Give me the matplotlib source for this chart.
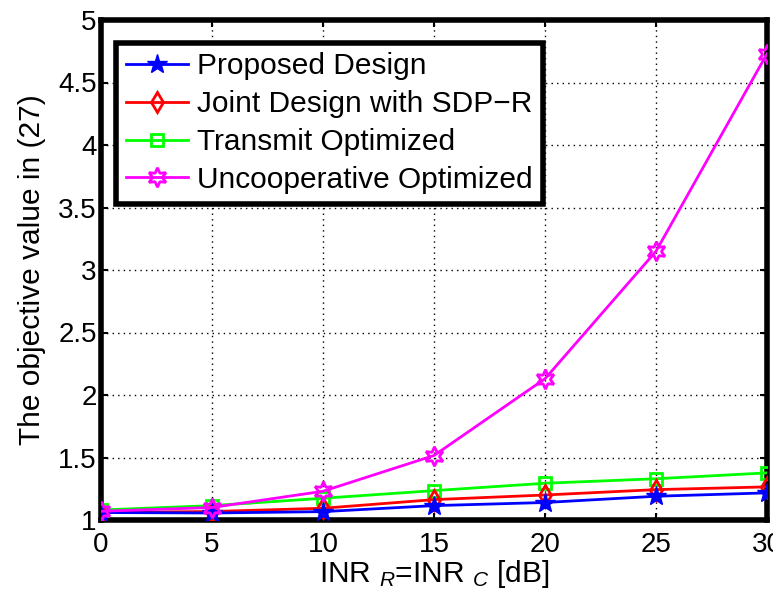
import numpy as np
import matplotlib.pyplot as plt

plt.rcParams['font.family'] = ['Liberation Sans', 'DejaVu Sans']
plt.rcParams['mathtext.fontset'] = 'custom'
plt.rcParams['mathtext.rm'] = 'Liberation Sans'
plt.rcParams['mathtext.it'] = 'Liberation Sans:italic'

inr = [0, 5, 10, 15, 20, 25, 30]

proposed = [1.06, 1.056, 1.067, 1.115, 1.14, 1.19, 1.217]
joint_sdpr = [1.06, 1.068, 1.094, 1.163, 1.20, 1.243, 1.265]
transmit_opt = [1.08, 1.115, 1.174, 1.235, 1.294, 1.33, 1.377]
uncoop_opt = [1.07, 1.10, 1.23, 1.516, 2.13, 3.15, 4.73]

labels = ['Proposed Design', 'Joint Design with SDP\u2212R',
          'Transmit Optimized', 'Uncooperative Optimized']

fig = plt.figure(figsize=(7.73, 6.06), dpi=100)
ax = fig.add_axes([101 / 773, 1 - 520 / 606, 666 / 773, 500 / 606])

ax.plot(inr, proposed, color='blue', lw=2, marker='*', ms=15,
        mfc='blue', mec='blue', label=labels[0], zorder=5)
ax.plot(inr, joint_sdpr, color='red', lw=2, marker='d', ms=10,
        mfc='none', mec='red', mew=2, label=labels[1], zorder=4)
ax.plot(inr, transmit_opt, color='#00ff00', lw=2, marker='s', ms=8,
        mfc='none', mec='#00ff00', mew=2, label=labels[2], zorder=3)
ax.plot(inr, uncoop_opt, color='magenta', lw=2, marker=(6, 1, 0), ms=14,
        mfc='none', mec='magenta', mew=2, label=labels[3], zorder=6)

ax.set_xlim(0, 30)
ax.set_ylim(1, 5)
ax.set_xticks(inr)
ax.set_yticks([1, 1.5, 2, 2.5, 3, 3.5, 4, 4.5, 5])
ax.set_yticklabels(['1', '1.5', '2', '2.5', '3', '3.5', '4', '4.5', '5'])
ax.tick_params(labelsize=20, direction='in', length=5, width=1.5,
               top=True, right=True)
ax.tick_params(axis='x', pad=9)
ax.tick_params(axis='y', pad=3)
ax.grid(True, color='black', linestyle=(0, (1, 3)), linewidth=1)
for s in ax.spines.values():
    s.set_linewidth(4)

ax.set_xlabel('INR $_{R}$=INR $_{C}$ [dB]', fontsize=21.5, labelpad=0)
ax.set_ylabel('The objective value in (27)', fontsize=21.5, labelpad=9)

leg = ax.legend(loc='upper left', bbox_to_anchor=(0.022, 0.955), fontsize=21.5,
                fancybox=False, framealpha=1, edgecolor='black',
                borderpad=0.33, labelspacing=0.33, handlelength=2.1,
                handletextpad=0.3, borderaxespad=0)
leg.get_frame().set_linewidth(4)

fig.savefig('out.png', dpi=100)
